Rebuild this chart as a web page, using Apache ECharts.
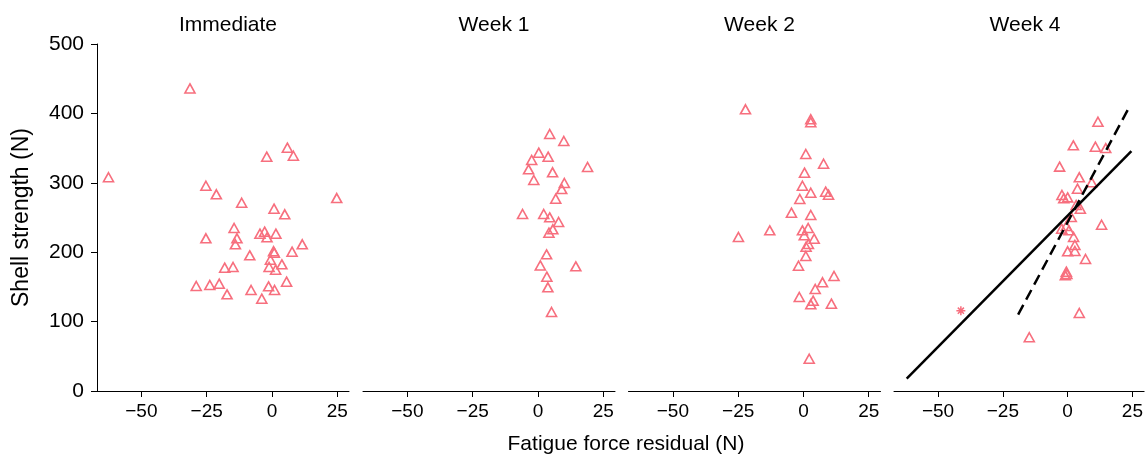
<!DOCTYPE html>
<html>
<head>
<meta charset="utf-8">
<script src="https://cdn.jsdelivr.net/npm/echarts@6/dist/echarts.min.js"></script>
<style>html,body{margin:0;padding:0;background:#fff}#c{width:1146px;height:458px}</style>
</head>
<body>
<div id="c"></div>
<script>
const panelTitles = ['Immediate', 'Week 1', 'Week 2', 'Week 4'];
const xTicks = [-50, -25, 0, 25];
const yTicks = [0, 100, 200, 300, 400, 500];

const immediate = [
  [-31.4,436],[-62.6,308],[5.9,350.6],[-2.0,337.6],[8.2,339],[-25.3,295.8],[-21.3,283.4],
  [-11.6,271.3],[24.8,278],[0.8,262.7],[4.9,254.6],[-14.5,234.9],[-25.3,220],[-13.4,220],
  [-14.0,211.4],[-4.6,226.7],[-2.8,229.6],[-1.9,221.4],[1.5,226.7],[11.6,211.4],[7.7,200.8],
  [0.6,201.3],[0.9,199.3],[-8.5,195.5],[-0.6,189.2],[3.8,182.5],[-1.1,178.7],[1.4,174.8],
  [-18.1,177.7],[-14.9,178.7],[-29.0,151.3],[-23.8,152.7],[-20.2,154.6],[-17.2,139.3],
  [-8.0,145.5],[-1.3,150.8],[1.0,145.5],[5.6,157.5],[-3.9,133]
];
const week1 = [
  [4.5,370.3],[9.9,360.2],[0.3,343.4],[3.9,337.6],[-2.4,332.9],[-3.6,319.4],[5.6,315.1],
  [19.0,322.8],[-1.6,304],[10.1,299.7],[9.1,291],[6.8,277.1],[-5.9,255],[2.2,255],
  [4.5,250.2],[7.9,243.5],[5.7,233],[4.2,228.1],[3.3,196.9],[0.9,181],[14.5,179.6],
  [3.4,164.7],[3.8,149.4],[5.2,113.8]
];
const week2 = [
  [-22.2,405.9],[2.8,391.5],[2.8,387.2],[0.9,341.5],[7.7,327.5],[0.4,314.6],[-0.4,295.8],
  [2.8,285.7],[8.5,287.2],[9.6,282.9],[-1.4,276.7],[-4.6,256.9],[2.8,253.6],[-12.9,231.5],
  [-24.9,221.9],[-0.4,231.5],[1.8,234.9],[0.3,224.3],[4.1,219.5],[1.9,211.8],[1.0,207.9],
  [0.9,194.5],[-1.9,180.5],[11.7,165.7],[7.3,156.6],[4.5,147],[-1.6,135.4],[3.7,130.1],
  [2.8,124.9],[10.7,125.8],[2.2,46.5]
];
const week4 = [
  [11.7,388],[2.2,354],[10.7,352],[14.7,350],[-3.1,323.3],[4.5,307.9],[9.3,300.7],
  [3.8,291.5],[-2.2,282.4],[-1.5,277.6],[0,279],[3.3,268],[4.9,262.7],[1.4,250.7],
  [13.1,239.6],[-2.3,233.9],[-0.5,237.8],[0.5,231.5],[2.3,221.9],[2.8,210.4],[0,201.3],
  [2.8,201.7],[6.9,190.2],[-0.5,171.9],[-0.9,166.7],[-0.3,168.6],[4.5,112.4],[-14.8,77.4]
];
const week4Outlier = [[-41.2,115.7]];
const solidFit = [[-62.1,17.7],[24.6,345.8]];
const dashedFit = [[-19.1,110],[24.2,412.1]];

const panelData = [immediate, week1, week2, week4];
const PINK = '#f76f7e';
const FONT = '"Liberation Sans", Arial, sans-serif';
const lefts = [97, 363, 628.5, 894];
const W = 252, TOP = 44, H = 347;

const fmt = v => v < 0 ? '\u2212' + Math.abs(v) : String(v);

const grid = lefts.map(l => ({left: l, top: TOP, width: W, height: H, containLabel: false}));
const xAxis = lefts.map((l, i) => ({
  type: 'value', gridIndex: i, min: -67, max: 29.5,
  axisLine: {show: true, onZero: false, lineStyle: {color: '#000', width: 1}},
  axisTick: {show: true, length: 6, lineStyle: {color: '#000', width: 1}, customValues: xTicks},
  axisLabel: {show: true, customValues: xTicks, formatter: fmt, color: '#000', fontSize: 19, fontFamily: FONT, margin: 11},
  splitLine: {show: false}
}));
const yAxis = lefts.map((l, i) => ({
  type: 'value', gridIndex: i, min: 0, max: 500, interval: 100,
  show: i === 0,
  axisLine: {show: true, onZero: false, lineStyle: {color: '#000', width: 1}},
  axisTick: {show: true, length: 6, lineStyle: {color: '#000', width: 1}},
  axisLabel: {show: true, color: '#000', fontSize: 21, fontFamily: FONT, margin: 13},
  splitLine: {show: false},
  name: i === 0 ? 'Shell strength (N)' : '',
  nameLocation: 'middle', nameGap: 64, nameRotate: 90,
  nameTextStyle: {color: '#000', fontSize: 23, fontFamily: FONT}
}));

const series = [];
panelData.forEach((d, i) => {
  series.push({
    type: 'scatter', xAxisIndex: i, yAxisIndex: i, data: d,
    symbol: 'triangle', symbolSize: [10, 9],
    itemStyle: {color: 'rgba(255,255,255,0)', borderColor: PINK, borderWidth: 1.6, opacity: 1},
    silent: true, animation: false
  });
});
series.push({
  type: 'scatter', xAxisIndex: 3, yAxisIndex: 3, data: week4Outlier,
  symbol: 'path://M5,0L5,10M0,5L10,5M1.6,1.6L8.4,8.4M1.6,8.4L8.4,1.6', symbolSize: 9,
  itemStyle: {color: 'rgba(255,255,255,0)', borderColor: PINK, borderWidth: 1.5, opacity: 1},
  silent: true, animation: false
});
series.push({
  type: 'line', xAxisIndex: 3, yAxisIndex: 3, data: solidFit, symbol: 'none',
  lineStyle: {color: '#000', width: 2.5}, silent: true, animation: false, z: 5
});
series.push({
  type: 'line', xAxisIndex: 3, yAxisIndex: 3, data: dashedFit, symbol: 'none',
  lineStyle: {color: '#000', width: 2.5, type: [11, 6]}, silent: true, animation: false, z: 5
});

const title = panelTitles.map((t, i) => ({
  text: t, left: lefts[i] + W / 2, top: 10, textAlign: 'center',
  textStyle: {color: '#000', fontSize: 21, fontWeight: 'normal', fontFamily: FONT}
}));
title.push({
  text: 'Fatigue force residual (N)', left: 621, top: 429, textAlign: 'center',
  textStyle: {color: '#000', fontSize: 21, fontWeight: 'normal', fontFamily: FONT}
});

const chart = echarts.init(document.getElementById('c'), null, {renderer: 'canvas'});
chart.setOption({animation: false, backgroundColor: '#fff', title, grid, xAxis, yAxis, series});
</script>
</body>
</html>
